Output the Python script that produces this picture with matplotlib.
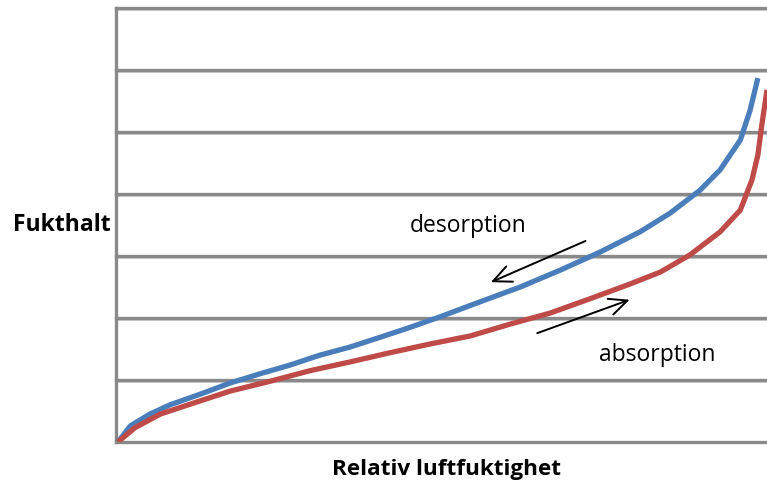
import matplotlib.pyplot as plt

# Sorption curves (x = relative humidity %, y = grid steps)
desorp_x = [0.3, 2.2, 5.2, 8.3, 12.9, 17.5, 22.1, 26.7, 31.3, 35.9, 40.6, 45.2,
            49.8, 55.9, 62.1, 68.2, 74.3, 80.5, 85.1, 89.7, 92.8, 95.9, 97.4, 98.6]
desorp_y = [0.0, 0.26, 0.45, 0.60, 0.77, 0.95, 1.10, 1.24, 1.40, 1.53, 1.69, 1.85,
            2.02, 2.26, 2.50, 2.77, 3.06, 3.39, 3.69, 4.06, 4.39, 4.87, 5.35, 5.87]

absorp_x = [0.3, 2.9, 6.8, 11.4, 17.5, 23.7, 29.8, 35.9, 42.1, 48.2, 54.4, 60.5,
            66.7, 72.8, 79.0, 83.6, 88.2, 92.8, 95.9, 97.7, 98.6, 99.2, 100.0]
absorp_y = [0.0, 0.23, 0.45, 0.61, 0.82, 0.98, 1.15, 1.29, 1.44, 1.58, 1.71, 1.90,
            2.08, 2.31, 2.55, 2.74, 3.02, 3.39, 3.74, 4.23, 4.63, 5.11, 5.68]

grid_levels = [1, 2, 3, 4, 5, 6, 7]

plt.rcParams['font.family'] = ['Open Sans', 'DejaVu Sans']

fig = plt.figure(figsize=(7.67, 4.83), dpi=100)
ax = fig.add_axes([116 / 767, 41 / 483, 651 / 767, 434 / 483])
ax.set_xlim(0, 100)
ax.set_ylim(0, 7)

# gridlines with a faint shadow underneath, like the original
for g in grid_levels:
    ax.axhline(g - 0.025, color='#d0d0d0', lw=1.4, zorder=1, clip_on=False)
    ax.axhline(g, color='#898989', lw=2.4, zorder=1, clip_on=False)

ax.plot(desorp_x, desorp_y, color='#4a7ebb', lw=3.8, zorder=3, solid_capstyle='butt')
ax.plot(absorp_x, absorp_y, color='#be4b48', lw=3.8, zorder=3, solid_capstyle='butt')

for s in ['top', 'right']:
    ax.spines[s].set_visible(False)
for s in ['left', 'bottom']:
    ax.spines[s].set_color('#898989')
    ax.spines[s].set_linewidth(2.4)
ax.set_xticks([])
ax.set_yticks([])

# arrows and labels
arrow = dict(arrowstyle='->,head_length=1.3,head_width=0.6', color='black', lw=1.4)
ax.annotate('', xy=(57.2, 2.56), xytext=(72.5, 3.26), arrowprops=arrow)
ax.annotate('', xy=(79.3, 2.31), xytext=(64.3, 1.74), arrowprops=arrow)
ax.text(54.1, 3.49, 'desorption', fontsize=16.5, ha='center', va='center')
ax.text(83.2, 1.40, 'absorption', fontsize=16.5, ha='center', va='center')

fig.text(62 / 767, 1 - 225 / 483, 'Fukthalt', fontsize=16.5, fontweight='bold', ha='center', va='center')
fig.text(447 / 767, 1 - 469 / 483, 'Relativ luftfuktighet', fontsize=16.2, fontweight='bold',
         ha='center', va='center')

fig.savefig('out.png', dpi=100)
